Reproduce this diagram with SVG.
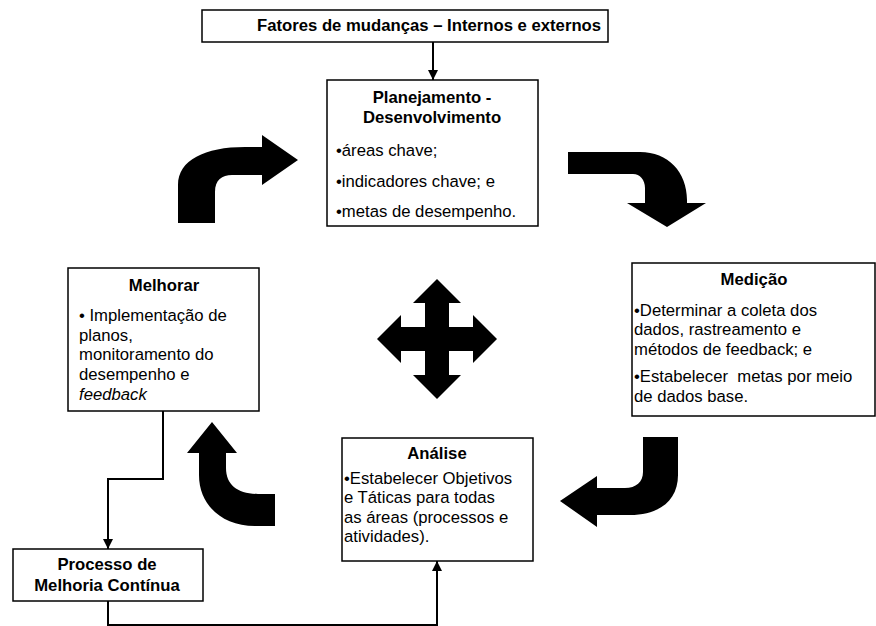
<svg xmlns="http://www.w3.org/2000/svg" width="876" height="626" viewBox="0 0 876 626">
<defs>
<style>
.box{fill:#fff;stroke:#000;stroke-width:1.5}
.t{font-family:"Liberation Sans",Arial,sans-serif;font-size:16.7px;fill:#000}
.b{font-weight:bold}
.c{text-anchor:middle}
.i{font-style:italic}
.conn{fill:none;stroke:#000;stroke-width:2}
.big{fill:#000}
</style>
<marker id="ah" markerUnits="userSpaceOnUse" markerWidth="10" markerHeight="10" refX="10" refY="5" orient="auto">
<path d="M0,0 L10,5 L0,10 z" fill="#000"/>
</marker>
</defs>
<rect width="876" height="626" fill="#fff"/>

<g id="connectors">
<path class="conn" d="M433 42 L433 80" marker-end="url(#ah)"/>
<path class="conn" d="M163 411 L163 479 L108 479 L108 549" marker-end="url(#ah)"/>
<path class="conn" d="M108 601 L108 625 L437 625 L437 561" marker-end="url(#ah)"/>
</g>

<g id="cycle-arrows">
<path class="big" d="M178 223 L178 185 C178 160 205 147 245 147 L262 147 L262 135 L298 160 L262 185 L262 175 L232 175 C222 175 215 180 215 192 L215 223 Z"/>
<path class="big" d="M568 152 L640 152 C668 152 687 172 687 200 L687 203 L706 203 L667 227 L627 203 L645 203 L645 188 C645 180 640 174 633 174 L568 174 Z"/>
<path class="big" d="M643 437 L678 437 L678 475 C678 500 660 515 630 515 L597 515 L597 527 L560 501 L597 476 L597 488 L625 488 C636 488 643 482 643 472 Z"/>
<path class="big" d="M212 422 L237 453 L226 453 L226 468 C226 485 238 494 258 494 L275 494 L275 526 L255 526 C222 526 199 505 199 475 L199 453 L187 453 Z"/>
<path class="big" d="M437 279 L461 303 L449 303 L449 327 L473 327 L473 315 L497 339 L473 363 L473 351 L449 351 L449 375 L461 375 L437 399 L413 375 L425 375 L425 351 L401 351 L401 363 L377 339 L401 315 L401 327 L425 327 L425 303 L413 303 Z"/>
</g>

<g id="fatores">
<rect class="box" x="202" y="10" width="406" height="32"/>
<text class="t b" x="257" y="31">Fatores de mudanças – Internos e externos</text>
</g>

<g id="planejamento">
<rect class="box" x="327" y="80" width="211" height="146"/>
<text class="t b c" x="432" y="103">Planejamento -</text>
<text class="t b c" x="432" y="123">Desenvolvimento</text>
<text class="t" x="336" y="156">•áreas chave;</text>
<text class="t" x="336" y="187">•indicadores chave; e</text>
<text class="t" x="336" y="217">•metas de desempenho.</text>
</g>

<g id="medicao">
<rect class="box" x="632" y="263" width="243" height="153"/>
<text class="t b c" x="754" y="285">Medição</text>
<text class="t" x="634" y="316">•Determinar a coleta dos</text>
<text class="t" x="634" y="335">dados, rastreamento e</text>
<text class="t" x="634" y="355">métodos de feedback; e</text>
<text class="t" x="634" y="382" style="white-space:pre">•Estabelecer  metas por meio</text>
<text class="t" x="634" y="402">de dados base.</text>
</g>

<g id="melhorar">
<rect class="box" x="68" y="268" width="191" height="143"/>
<text class="t b c" x="164" y="291">Melhorar</text>
<text class="t" x="79" y="321">• Implementação de</text>
<text class="t" x="79" y="341">planos,</text>
<text class="t" x="79" y="360">monitoramento do</text>
<text class="t" x="79" y="380">desempenho e</text>
<text class="t i" x="79" y="400">feedback</text>
</g>

<g id="analise">
<rect class="box" x="342" y="438" width="191" height="123"/>
<text class="t b c" x="437" y="459">Análise</text>
<text class="t" x="344" y="484">•Estabelecer Objetivos</text>
<text class="t" x="344" y="503">e Táticas para todas</text>
<text class="t" x="344" y="523">as áreas (processos e</text>
<text class="t" x="344" y="542">atividades).</text>
</g>

<g id="processo">
<rect class="box" x="13" y="549" width="190" height="52"/>
<text class="t b c" x="107" y="570">Processo de</text>
<text class="t b c" x="107" y="591">Melhoria Contínua</text>
</g>
</svg>
